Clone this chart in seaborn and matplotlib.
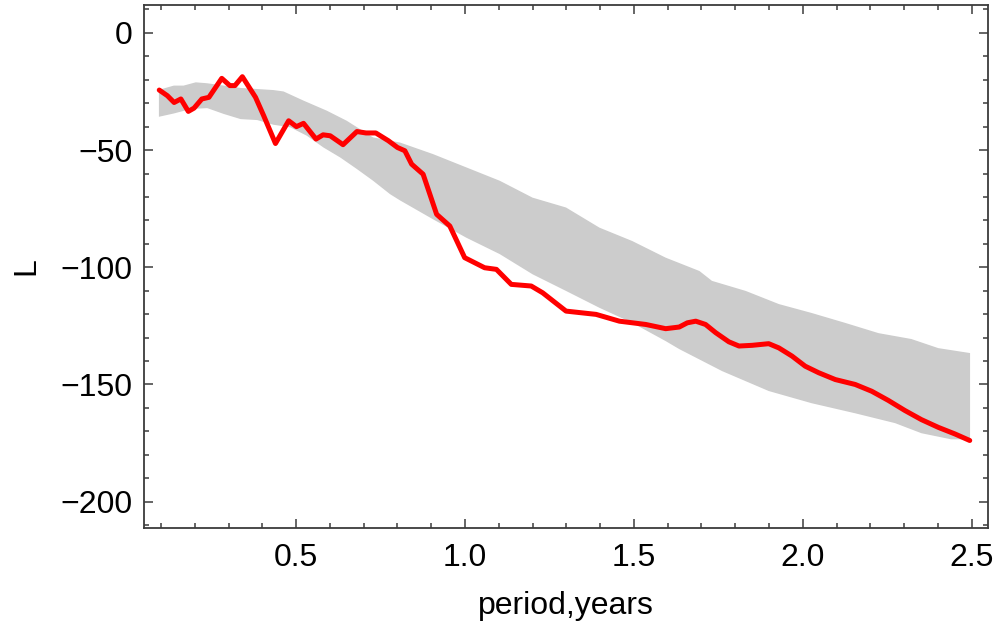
import matplotlib
matplotlib.use("Agg")
import matplotlib.pyplot as plt
import seaborn as sns
import numpy as np
import pandas as pd
from matplotlib.ticker import MultipleLocator

# ---- data ----
line_x = [0.095, 0.119, 0.139, 0.159, 0.181, 0.198, 0.221, 0.242, 0.280, 0.304,
          0.319, 0.341, 0.380, 0.404, 0.439, 0.478, 0.501, 0.522, 0.559, 0.580,
          0.601, 0.639, 0.680, 0.707, 0.736, 0.773, 0.800, 0.822, 0.842, 0.876,
          0.916, 0.955, 0.999, 1.058, 1.093, 1.137, 1.196, 1.230, 1.299, 1.388,
          1.457, 1.535, 1.594, 1.634, 1.658, 1.683, 1.712, 1.742, 1.781, 1.811,
          1.850, 1.899, 1.929, 1.968, 2.007, 2.047, 2.096, 2.155, 2.204, 2.253,
          2.302, 2.351, 2.401, 2.450, 2.494]
line_y = [-24.4, -26.8, -29.7, -28.2, -33.5, -32.1, -28.2, -27.5, -19.4, -22.5,
          -22.5, -18.7, -27.5, -35.3, -47.2, -37.5, -40.0, -38.6, -45.3, -43.5,
          -43.9, -47.7, -42.1, -42.7, -42.7, -46.0, -48.9, -50.3, -56.0, -60.3,
          -77.4, -82.4, -95.9, -100.2, -100.9, -107.3, -108.0, -110.9, -118.7, -120.1,
          -123.0, -124.4, -126.2, -125.5, -123.7, -123.0, -124.4, -127.9, -131.8, -133.6,
          -133.3, -132.6, -134.4, -137.9, -142.2, -145.0, -147.9, -150.0, -152.9, -156.8,
          -161.1, -165.0, -168.3, -171.1, -173.9]

band_upper_x = [0.094, 0.138, 0.167, 0.203, 0.237, 0.336, 0.433, 0.463, 0.522, 0.591,
                0.650, 0.728, 0.808, 0.905, 1.004, 1.103, 1.200, 1.299, 1.398, 1.495,
                1.594, 1.694, 1.731, 1.831, 1.929, 2.026, 2.127, 2.224, 2.321, 2.401,
                2.495]
band_upper_y = [-24.3, -22.5, -22.5, -21.1, -21.5, -23.5, -24.4, -25.0, -28.9, -33.2,
                -37.5, -44.6, -46.8, -51.7, -57.4, -63.1, -70.3, -74.5, -83.1, -88.8,
                -95.9, -101.6, -105.8, -110.1, -115.7, -119.5, -123.8, -128.1, -130.6, -134.5,
                -136.6]
band_lower_x = [0.094, 0.138, 0.188, 0.237, 0.286, 0.336, 0.385, 0.433, 0.483, 0.532,
                0.581, 0.631, 0.680, 0.728, 0.778, 0.808, 0.905, 1.004, 1.103, 1.200,
                1.299, 1.398, 1.495, 1.594, 1.634, 1.761, 1.899, 2.026, 2.155, 2.273,
                2.351, 2.439, 2.495]
band_lower_y = [-35.8, -34.4, -32.5, -32.1, -34.6, -36.8, -37.2, -39.2, -40.3, -43.9,
                -48.9, -53.2, -58.1, -63.1, -68.8, -71.5, -79.5, -87.4, -94.4, -103.0,
                -110.1, -117.3, -123.7, -131.5, -134.9, -144.3, -152.8, -158.0, -162.3, -166.5,
                -170.8, -173.4, -173.4]

x_ticks = [0.5, 1.0, 1.5, 2.0, 2.5]
y_ticks = [0, -50, -100, -150, -200]
x_label = "period,years"
y_label = "L"

# ---- style ----
sns.set_style("ticks")
plt.rcParams['font.family'] = ['Liberation Sans', 'DejaVu Sans']
plt.rcParams['text.color'] = 'black'
plt.rcParams['axes.labelcolor'] = 'black'
frame_col = "#3c3c3c"

fig = plt.figure(figsize=(9.98, 6.35), dpi=100)
ax = fig.add_axes([0.144, 0.169, 0.8463, 0.8228])

poly_x = band_upper_x + band_lower_x[::-1]
poly_y = band_upper_y + band_lower_y[::-1]
ax.fill(poly_x, poly_y, color="#cccccc", linewidth=0, zorder=1)

df = pd.DataFrame({"x": line_x, "y": line_y})
sns.lineplot(data=df, x="x", y="y", ax=ax, color="#ff0000", linewidth=3.6,
             sort=False, estimator=None, zorder=3)

ax.set_xlim(0.049, 2.549)
ax.set_ylim(-211.1, 11.8)
ax.set_xticks(x_ticks)
ax.set_xticklabels([f"{v:.1f}" for v in x_ticks])
ax.set_yticks(y_ticks)
ax.set_yticklabels([f"{v}".replace("-", "\u2212") for v in y_ticks])
ax.xaxis.set_minor_locator(MultipleLocator(0.1))
ax.yaxis.set_minor_locator(MultipleLocator(10))

for s in ax.spines.values():
    s.set_visible(True)
    s.set_color(frame_col)
    s.set_linewidth(1.3)

ax.tick_params(which="both", direction="in", top=True, right=True,
               color=frame_col, width=1.1, labelsize=23, labelcolor="black")
ax.tick_params(which="major", length=6.5)
ax.tick_params(which="minor", length=3.6)
ax.tick_params(axis="x", which="major", pad=11)
ax.tick_params(axis="y", which="major", pad=8)

ax.set_xlabel(x_label, fontsize=23, labelpad=13, color="black")
ax.set_ylabel(y_label, fontsize=23, labelpad=14, color="black")

fig.savefig("out.png", dpi=100)
